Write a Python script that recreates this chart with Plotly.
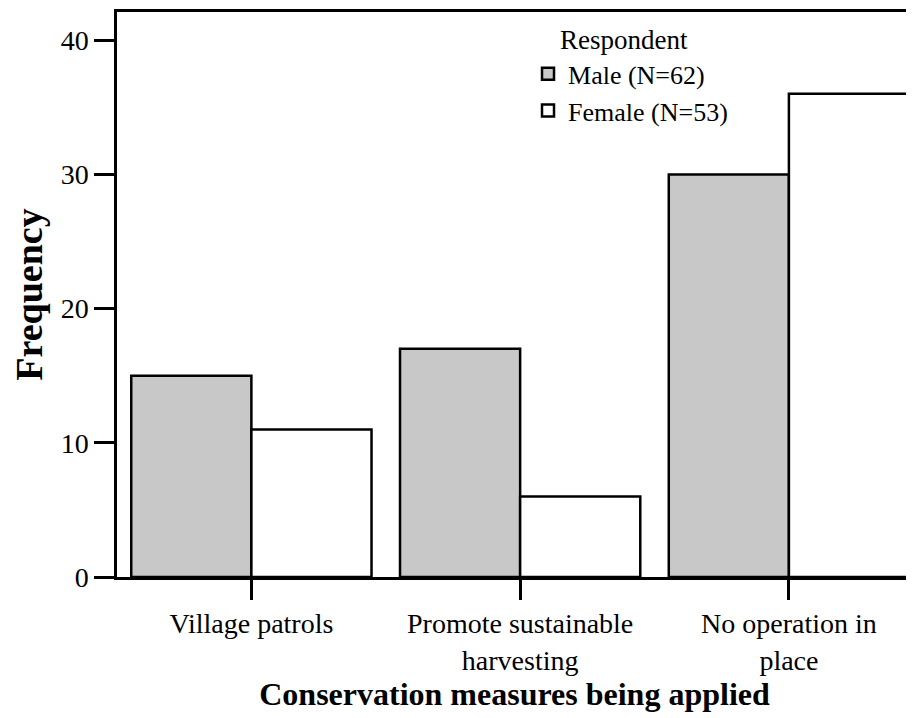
import plotly.graph_objects as go

# =========================
# 数据
# =========================
categories = ["Village patrols", "Promote sustainable<br>harvesting", "No operation in<br>place"]
male = [15, 17, 30]
female = [11, 6, 36]
male_name = "Male (N=62)"
female_name = "Female (N=53)"
legend_title = "Respondent"
y_ticks = [0, 10, 20, 30, 40]

FONT = "Liberation Serif"


def f(size):
    return dict(family=FONT, size=size, color="black")


fig = go.Figure()

fig.add_trace(go.Bar(
    x=categories, y=male, name=male_name,
    marker=dict(color="#c8c8c8", line=dict(color="black", width=2.5)),
))
fig.add_trace(go.Bar(
    x=categories, y=female, name=female_name,
    marker=dict(color="white", line=dict(color="black", width=2.5)),
))

# 页面有 8px 的 body 边距，所以整体尺寸减掉 8
fig.update_layout(
    width=906, height=710,
    margin=dict(l=109, r=2, t=4, b=141, autoexpand=False),
    paper_bgcolor="white", plot_bgcolor="white",
    barmode="group", bargap=0.106, bargroupgap=0,
    font=f(27),
    showlegend=True,
    legend=dict(
        x=0.517, y=0.932, xanchor="left", yanchor="top",
        bgcolor="rgba(0,0,0,0)", font=f(26),
        traceorder="normal", itemwidth=30, tracegroupgap=0,
    ),
)

fig.add_annotation(
    text=legend_title, xref="paper", yref="paper",
    x=0.555, y=0.95, xanchor="left", yanchor="middle",
    showarrow=False, font=f(27),
)

fig.update_xaxes(
    range=[-0.5, 2.458], automargin=False,
    showline=True, linecolor="black", linewidth=2.5, mirror=True,
    ticks="outside", ticklen=20, tickwidth=2.5, tickcolor="black",
    tickson="labels", showgrid=False,
    tickfont=f(28),
    title=dict(text="<b>Conservation measures being applied</b>",
               font=f(32), standoff=0),
)
fig.update_yaxes(
    range=[0, 42.1], automargin=False,
    tickvals=y_ticks,
    showline=True, linecolor="black", linewidth=2.5, mirror=True,
    ticks="outside", ticklen=20, tickwidth=2.5, tickcolor="black",
    showgrid=False, zeroline=False,
    tickfont=f(28),
    title=dict(text="<b>Frequency</b>", font=f(38), standoff=14),
)

fig.write_html("out.html")
